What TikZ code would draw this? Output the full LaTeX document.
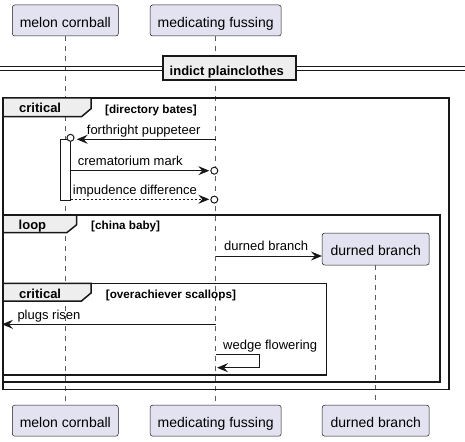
\documentclass[tikz,border=0pt]{standalone}
\usepackage{fontspec}
\setmainfont{Liberation Sans}
\usetikzlibrary{arrows.meta}
\definecolor{partfill}{HTML}{E2E2F0}
\definecolor{ink}{HTML}{181818}
\definecolor{tabfill}{HTML}{EEEEEE}
\begin{document}
\begin{tikzpicture}[x=1pt,y=-1pt,
  partbox/.style={draw=ink, line width=0.5pt, fill=partfill, rounded corners=2.5pt, minimum height=31pt, inner sep=0pt},
  parttext/.style={anchor=base, font=\fontsize{14}{16}\selectfont, inner sep=0pt, text=black},
  lifeline/.style={draw=ink!70, line width=0.6pt, dash pattern=on 5pt off 5pt},
  frameline/.style={draw=ink, line width=1.5pt},
  tabshape/.style={draw=ink, line width=1.5pt, fill=tabfill, line join=miter},
  framelabel/.style={anchor=base west, font=\bfseries\fontsize{13}{15}\selectfont, inner sep=0pt},
  guard/.style={anchor=base west, font=\bfseries\fontsize{11.7}{13}\selectfont, inner sep=0pt},
  msg/.style={draw=ink, line width=1pt, -{Stealth[length=11pt,width=9pt,inset=4pt]}},
  msgtext/.style={anchor=base west, font=\fontsize{13}{15}\selectfont, inner sep=0pt},
  endcircle/.style={circle, draw=ink, line width=1pt, fill=white, minimum size=7pt, inner sep=0pt},
  actbar/.style={draw=ink, line width=1pt, fill=white},
]
\useasboundingbox (0,0) rectangle (465,441);

% participants
\node[partbox, minimum width=106pt] (mcT) at (65.3,20.5) {};
\node[parttext] at ([yshift=-7pt]mcT.center) {melon cornball};
\node[partbox, minimum width=131pt] (mfT) at (215.7,20.5) {};
\node[parttext] at ([yshift=-7pt]mfT.center) {medicating fussing};
\node[partbox, minimum width=106pt] (mcB) at (65.3,420.7) {};
\node[parttext] at ([yshift=-7pt]mcB.center) {melon cornball};
\node[partbox, minimum width=131pt] (mfB) at (215.7,420.7) {};
\node[parttext] at ([yshift=-7pt]mfB.center) {medicating fussing};
\node[partbox, minimum width=107pt, minimum height=32pt] (dbT) at (375.7,249) {};
\node[parttext] at ([yshift=-6.3pt]dbT.center) {durned branch};
\node[partbox, minimum width=107pt] (dbB) at (375.7,420.7) {};
\node[parttext] at ([yshift=-7pt]dbB.center) {durned branch};

% lifelines
\draw[lifeline] (mcT.south) -- (mcB.north);
\draw[lifeline] (mfT.south) -- (mfB.north);
\draw[lifeline] (dbT.south) -- (dbB.north);

% divider
\coordinate (dvL1) at (0,66.5); \coordinate (dvR1) at (465,66.5);
\coordinate (dvL2) at (0,70.5); \coordinate (dvR2) at (465,70.5);
\draw[ink, line width=1pt] (dvL1) -- (dvR1);
\draw[ink, line width=1pt] (dvL2) -- (dvR2);
\node[draw=ink, line width=1.8pt, fill=tabfill, minimum width=133pt, minimum height=24pt, inner sep=0pt] (dv) at (229.7,68.2) {};
\node[anchor=base west, font=\bfseries\fontsize{13}{15}\selectfont, inner sep=0pt] at (169.5,75.3) {indict plainclothes};

% frames
\draw[frameline] (3,98) rectangle (449,389.3);
\draw[tabshape] (3,98) -- (91,98) -- (91,108.7) -- (81.5,116.7) -- (3,116.7) -- cycle;
\node[framelabel] at (19,113) {critical};
\node[guard] at (105,113.7) {[directory bates]};

\draw[frameline] (3,215) rectangle (440,382);
\draw[tabshape] (3,215) -- (76.7,215) -- (76.7,224.7) -- (66.7,232.7) -- (3,232.7) -- cycle;
\node[framelabel] at (18.5,229.5) {loop};
\node[guard] at (91,229.5) {[china baby]};

\draw[frameline] (3,283.3) rectangle (326.7,375);
\draw[tabshape] (3,283.3) -- (91,283.3) -- (91,293) -- (81.5,301) -- (3,301) -- cycle;
\node[framelabel] at (19,298.3) {critical};
\node[guard] at (105.7,298.5) {[overachiever scallops]};

% activation
\node[actbar, minimum width=10pt, minimum height=60.7pt, inner sep=0pt] (act) at (65.7,169.65) {};

% messages
\coordinate (m1s) at (215.7,139.3); \coordinate (m1e) at (76.7,139.3);
\draw[msg] (m1s) -- (m1e);
\node[endcircle] (c1) at (70.5,137.8) {};
\node[msgtext] at (86.7,134) {forthright puppeteer};

\coordinate (m2s) at (70.7,170.7); \coordinate (m2e) at (209.3,170.7);
\draw[msg] (m2s) -- (m2e);
\node[endcircle] (c2) at (214.3,170.7) {};
\node[msgtext] at (77.7,165) {crematorium mark};

\coordinate (m3s) at (70.7,199.3); \coordinate (m3e) at (209.3,199.3);
\draw[msg, dash pattern=on 2pt off 2pt] (m3s) -- (m3e);
\node[endcircle] (c3) at (214.3,199.6) {};
\node[msgtext] at (72.7,194) {impudence difference};

\coordinate (m4s) at (215.7,256);
\draw[msg] (m4s) -- (m4s -| dbT.west);
\node[msgtext] at (224,250.7) {durned branch};

\coordinate (m5s) at (215.7,324.3); \coordinate (m5e) at (2,324.3);
\draw[msg] (m5s) -- (m5e);
\node[msgtext] at (17.3,319.3) {plugs risen};

\coordinate (m6s) at (215.7,354.3); \coordinate (m6e) at (217,367.7);
\draw[msg] (m6s) -- (259,354.3) -- (259,367.7) -- (m6e);
\node[msgtext] at (223,349.3) {wedge flowering};

\end{tikzpicture}
\end{document}
